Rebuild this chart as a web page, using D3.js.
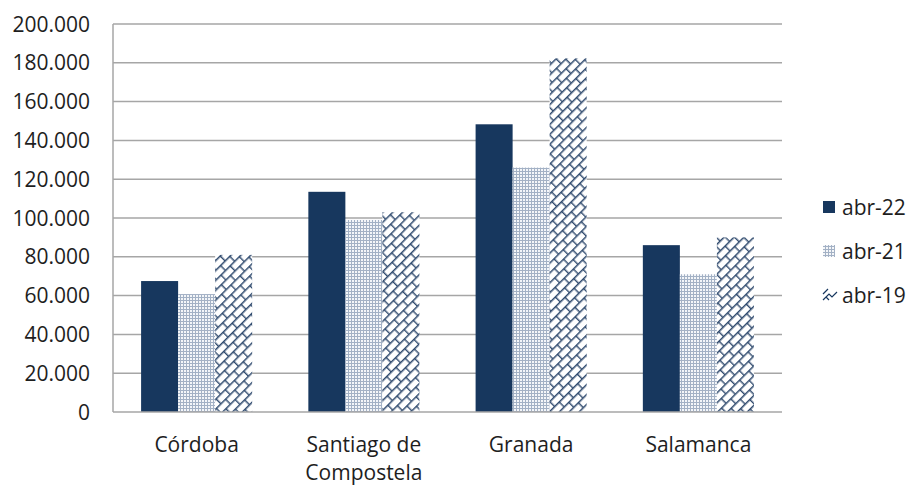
<!DOCTYPE html>
<html><head><meta charset="utf-8">
<script src="https://cdn.jsdelivr.net/npm/d3@7/dist/d3.min.js"></script>
<style>body{margin:0;background:#fff}svg{display:block}text{font-family:"Open Sans",sans-serif;fill:#1e1e1e}</style>
</head><body><svg id="c" width="909" height="485"></svg>
<script>
const categories = [["Córdoba"], ["Santiago de", "Compostela"], ["Granada"], ["Salamanca"]];
const seriesNames = ["abr-22", "abr-21", "abr-19"];
const abr22 = [67500, 113500, 148300, 86000];
const abr21 = [60800, 99000, 126000, 71000];
const abr19 = [81000, 103000, 182300, 90000];
const yTicks = [0, 20000, 40000, 60000, 80000, 100000, 120000, 140000, 160000, 180000, 200000];

const values = [abr22, abr21, abr19];
const svg = d3.select("#c");
const L = 113, R = 782, T = 24, B = 412;
const navy = "#17375E";

const defs = svg.append("defs");
// dotted grid pattern
const p1 = defs.append("pattern").attr("id","dots").attr("patternUnits","userSpaceOnUse").attr("width",3).attr("height",3);
p1.append("rect").attr("width",3).attr("height",3).attr("fill","#a3b1c5");
p1.append("rect").attr("x",1).attr("y",1).attr("width",2).attr("height",2).attr("fill","#f4f6f9");
// diagonal brick pattern
const p2 = defs.append("pattern").attr("id","brick").attr("patternUnits","userSpaceOnUse")
  .attr("width",13).attr("height",14).attr("patternTransform","rotate(-45)");
p2.append("rect").attr("width",13).attr("height",14).attr("fill","#fff");
p2.append("path").attr("d","M0,0.7H13M0,7.7H13M0.7,0.7V7.7M7.2,7.7V14.7")
  .attr("stroke","#2f4a6e").attr("stroke-width",1.4).attr("fill","none");

const fills = [navy, "url(#dots)", "url(#brick)"];

const x = d3.scaleBand().domain(d3.range(categories.length)).range([L, R]).paddingInner(0.336).paddingOuter(0.168);
const xs = d3.scaleBand().domain(d3.range(seriesNames.length)).range([0, x.bandwidth()]);
const y = d3.scaleLinear().domain([0, 200000]).range([B, T]);

const loc = d3.formatLocale({decimal:",", thousands:".", grouping:[3], currency:["",""]});
const fmt = loc.format(",d");

// gridlines
svg.append("g").selectAll("line").data(yTicks.filter(d=>d>0)).join("line")
  .attr("x1", L).attr("x2", R).attr("y1", d=>y(d)).attr("y2", d=>y(d))
  .attr("stroke", "#a6a6a6").attr("stroke-width", 1.5);

// bars
values.forEach((vals, s) => {
  svg.append("g").selectAll("rect").data(vals).join("rect")
    .attr("x", (d,i)=>x(i)+xs(s)).attr("width", xs.bandwidth())
    .attr("y", d=>y(d)).attr("height", d=>B-y(d))
    .attr("fill", fills[s]);
});

// axes lines
svg.append("line").attr("x1",L).attr("x2",L).attr("y1",T).attr("y2",B).attr("stroke","#a6a6a6").attr("stroke-width",1.5);
svg.append("line").attr("x1",L).attr("x2",R).attr("y1",B).attr("y2",B).attr("stroke","#a6a6a6").attr("stroke-width",1.5);

// y labels
svg.append("g").selectAll("text").data(yTicks).join("text")
  .attr("x", 90).attr("y", d=>y(d)).attr("dy","0.36em").attr("text-anchor","end")
  .attr("font-size", 21).text(d=>fmt(d));

// x labels
const xl = svg.append("g").selectAll("text").data(categories).join("text")
  .attr("text-anchor","middle").attr("font-size",21);
xl.each(function(lines,i){
  d3.select(this).selectAll("tspan").data(lines).join("tspan")
    .attr("x", x(i)+x.bandwidth()/2).attr("y",(d,j)=>452+j*28).text(d=>d);
});

// legend
const ly = [207, 251, 295];
seriesNames.forEach((n,s)=>{
  if (s===2) {
    svg.append("path").attr("d",`M${823},${ly[s]+5}l6,-6l3,3l5,-5M${823},${ly[s]-1}l5,-5M${826},${ly[s]+2}l3,3`)
      .attr("stroke",navy).attr("stroke-width",1.2).attr("fill","none");
  } else {
    svg.append("rect").attr("x",823).attr("y",ly[s]-6).attr("width",12).attr("height",12).attr("fill",fills[s]);
  }
  svg.append("text").attr("x",842).attr("y",ly[s]).attr("dy","0.36em").attr("font-size",21).text(n);
});
</script></body></html>
